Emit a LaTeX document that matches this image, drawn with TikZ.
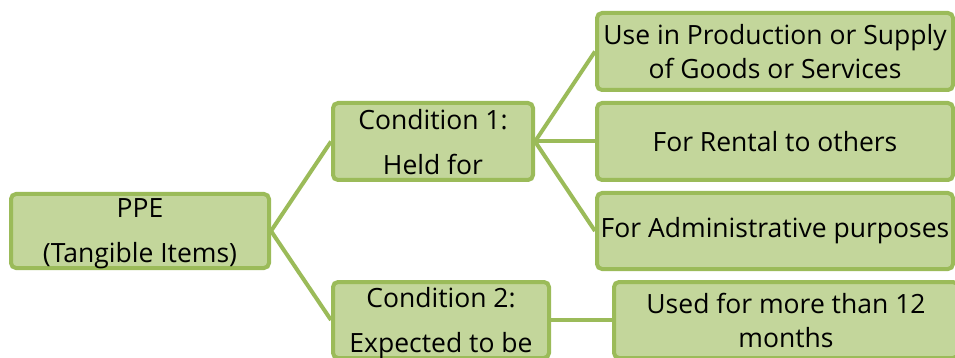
\documentclass[tikz,border=0pt]{standalone}
\usepackage{fontspec}
\setmainfont{Open Sans}
\usepackage{xcolor}
\usepackage{tikz}

\definecolor{leafgreen}{HTML}{C3D69B}
\definecolor{edgegreen}{HTML}{9BBB59}

\begin{document}
\begin{tikzpicture}[x=1pt, y=-1pt,
    box/.style={draw=edgegreen, fill=leafgreen, line width=4pt, rounded corners=5pt,
        inner sep=0pt, align=center, text=black, font=\fontsize{26.5}{45}\selectfont},
    tightbox/.style={box, font=\fontsize{26.5}{34}\selectfont},
    lowtext/.style={text depth=0pt},
    link/.style={draw=edgegreen, line width=4pt}]
\useasboundingbox (0,0) rectangle (955,358);

% Root
\node[box, lowtext, minimum width=258pt, minimum height=74pt] (ppe) at (140,231) {PPE\\(Tangible Items)};

% Conditions
\node[box, lowtext, minimum width=200pt, minimum height=77pt] (cond1) at (433,141.5) {Condition 1:\\Held for};
\node[box, lowtext, minimum width=216pt, minimum height=76pt] (cond2) at (441,320) {Condition 2:\\Expected to be};

% Purposes
\node[tightbox, lowtext, minimum width=356pt, minimum height=77pt] (prod) at (775,51.5) {Use in Production or Supply\\of Goods or Services};
\node[box, minimum width=356pt, minimum height=77pt] (rent) at (775,141.5) {For Rental to others};
\node[box, minimum width=356pt, minimum height=76pt] (admin) at (775,231) {For Administrative purposes};

% Duration
\node[tightbox, lowtext, minimum width=344pt, minimum height=76pt] (months) at (786,320) {Used for more than 12\\months};

% Links
\draw[link] (ppe.east) -- (cond1.west);
\draw[link] (ppe.east) -- (cond2.west);
\foreach \target in {prod, rent, admin} {
    \draw[link] (cond1.east) -- (\target.west);
}
\draw[link] (cond2.east) -- (months.west);
\end{tikzpicture}
\end{document}
